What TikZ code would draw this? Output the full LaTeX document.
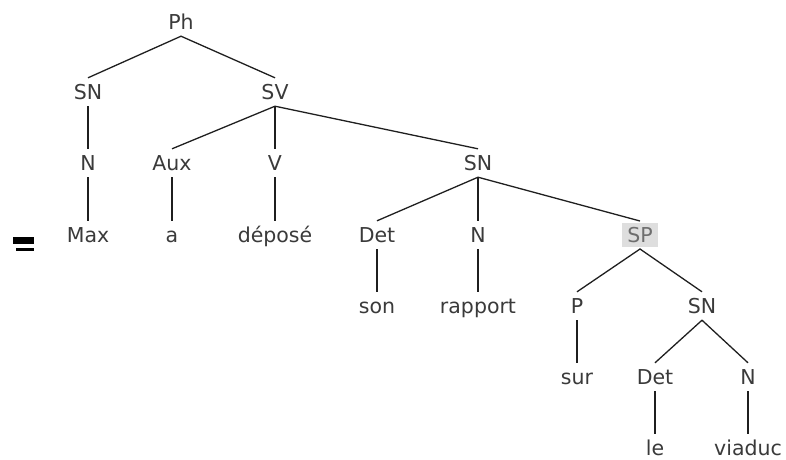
\documentclass[tikz,border=0pt]{standalone}
\usepackage{fontspec}
\setmainfont{DejaVu Sans}
\usepackage{xcolor}
\definecolor{txtgray}{RGB}{58,58,58}
\definecolor{hlgray}{RGB}{222,222,222}
\definecolor{hltext}{RGB}{110,110,110}
\tikzset{cat/.style={text=txtgray,inner xsep=0pt,inner ysep=3pt,text height=18pt,text depth=4pt,
    font=\fontsize{20.5}{24}\selectfont},
  hl/.style={cat,fill=hlgray,text=hltext,inner xsep=5pt,inner ysep=1pt,outer ysep=2pt},
  branch/.style={line width=1.3pt,black!88}}
\newcommand{\cat}[3]{\node[cat] (#1) at (#2) {#3};}

\begin{document}
\begin{tikzpicture}[x=1pt,y=-1pt]
    \useasboundingbox (0,0) rectangle (786,459);
    \fill[black] (13,237) rectangle (34,244);
    \fill[black] (16,248) rectangle (34,251);
    \cat{ph}{181,22}{Ph};
    \cat{sn1}{88,92}{SN};
    \cat{sv}{275,92}{SV};
    \cat{n1}{88,163}{N};
    \cat{aux}{172,163}{Aux};
    \cat{v}{275,163}{V};
    \cat{sn2}{478,163}{SN};
    \cat{max}{88,235}{Max};
    \cat{a}{172,235}{a};
    \cat{depose}{275,235}{déposé};
    \cat{det1}{377,235}{Det};
    \cat{n2}{478,235}{N};
    \node[hl] (sp) at (640,235) {SP};
    \cat{son}{377,306}{son};
    \cat{rapport}{478,306}{rapport};
    \cat{p}{577,306}{P};
    \cat{sn3}{702,306}{SN};
    \cat{sur}{577,377}{sur};
    \cat{det2}{655,377}{Det};
    \cat{n3}{748,377}{N};
    \cat{le}{655,448}{le};
    \cat{viaduc}{748,448}{viaduc};
    \draw[branch] (sn1.north)--(ph.south)--(sv.north);
    \draw[branch] (sn1.south)--(n1.north);
    \draw[branch] (n1.south)--(max.north);
    \draw[branch] (aux.north)--(sv.south)--(sn2.north);
    \draw[branch] (sv.south)--(v.north);
    \draw[branch] (aux.south)--(a.north);
    \draw[branch] (v.south)--(depose.north);
    \draw[branch] (det1.north)--(sn2.south)--(sp.north);
    \draw[branch] (sn2.south)--(n2.north);
    \draw[branch] (det1.south)--(son.north);
    \draw[branch] (n2.south)--(rapport.north);
    \draw[branch] (p.north)--(sp.south)--(sn3.north);
    \draw[branch] (p.south)--(sur.north);
    \draw[branch] (det2.north)--(sn3.south)--(n3.north);
    \draw[branch] (det2.south)--(le.north);
    \draw[branch] (n3.south)--(viaduc.north);
\end{tikzpicture}
\end{document}
